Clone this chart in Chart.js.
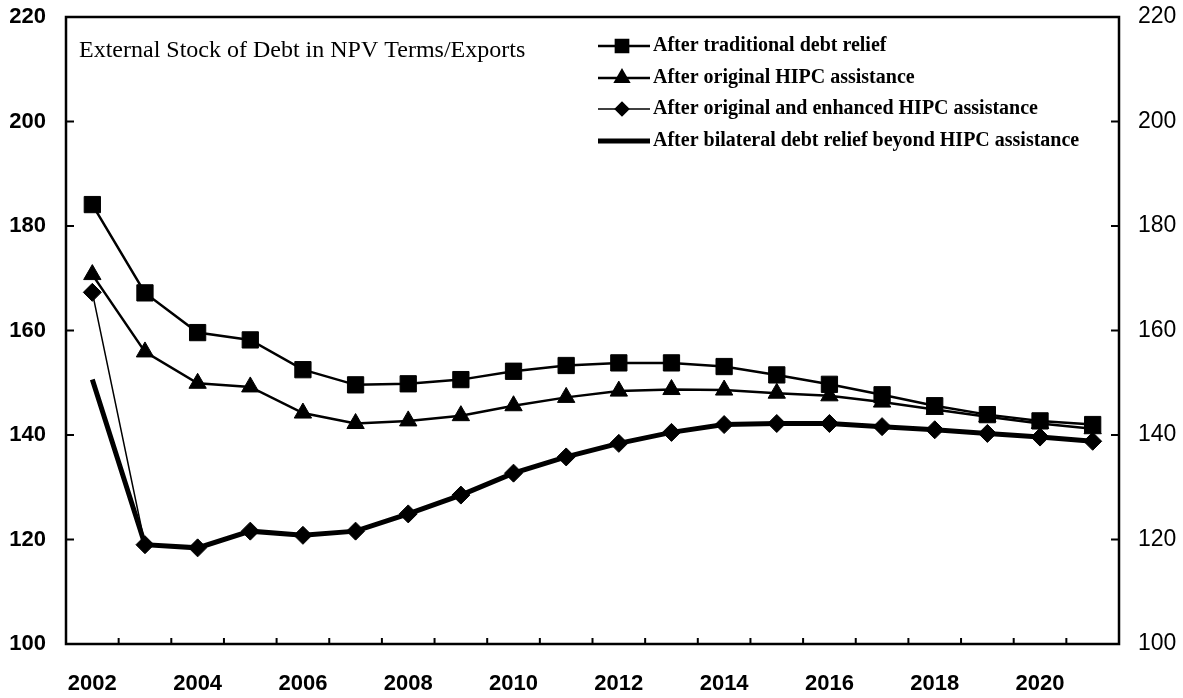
<!DOCTYPE html>
<html>
<head>
<meta charset="utf-8">
<title>External Stock of Debt in NPV Terms/Exports</title>
<script src="https://cdn.jsdelivr.net/npm/chart.js@4/dist/chart.umd.min.js"></script>
<style>
  body { margin: 0; background: #ffffff; }
  canvas { display: block; }
</style>
</head>
<body>
<canvas id="debtChart" width="1183" height="698"></canvas>
<script>
// Daten
const years = ["2002", "2003", "2004", "2005", "2006", "2007", "2008", "2009", "2010", "2011",
               "2012", "2013", "2014", "2015", "2016", "2017", "2018", "2019", "2020", "2021"];
const traditionalRelief = [184.1, 167.2, 159.6, 158.2, 152.5, 149.6, 149.8, 150.6, 152.2, 153.3,
                           153.8, 153.8, 153.1, 151.5, 149.7, 147.7, 145.6, 143.9, 142.7, 142.0];
const originalHipc = [170.7, 155.9, 149.9, 149.2, 144.2, 142.2, 142.7, 143.7, 145.6, 147.2,
                      148.4, 148.7, 148.6, 148.0, 147.5, 146.3, 144.9, 143.5, 142.2, 141.2];
const enhancedHipc = [167.3, 119.0, 118.4, 121.6, 120.8, 121.6, 124.9, 128.5, 132.7, 135.8,
                      138.4, 140.5, 142.0, 142.2, 142.2, 141.6, 141.0, 140.3, 139.6, 138.8];
const bilateralRelief = [150.6, 119.0, 118.4, 121.6, 120.8, 121.6, 124.9, 128.5, 132.7, 135.8,
                         138.4, 140.5, 142.0, 142.2, 142.2, 141.6, 141.0, 140.3, 139.6, 138.8];
const seriesLabels = [
  "After traditional debt relief",
  "After original HIPC assistance",
  "After original and enhanced HIPC assistance",
  "After bilateral debt relief beyond HIPC assistance",
];
const chartTitle = "External Stock of Debt in NPV Terms/Exports";

const axisFont = { family: "'Liberation Sans', Arial, sans-serif", size: 22, weight: "bold" };

// Rahmen und nach innen zeigende Striche
const frameTicks = {
  id: "frameTicks",
  beforeDatasetsDraw(chart) {
    const { ctx, chartArea: a, scales } = chart;
    ctx.save();
    ctx.strokeStyle = "#000";
    ctx.lineWidth = 2.5;
    ctx.strokeRect(a.left, a.top, a.right - a.left, a.bottom - a.top);
    ctx.lineWidth = 2;
    ctx.beginPath();
    const y = scales.y;
    y.ticks.forEach(function (t, i) {
      const py = y.getPixelForTick(i);
      if (py <= a.top + 1 || py >= a.bottom - 1) return;
      ctx.moveTo(a.left, py);
      ctx.lineTo(a.left + 8, py);
      ctx.moveTo(a.right, py);
      ctx.lineTo(a.right - 8, py);
    });
    const x = scales.x;
    for (let i = 1; i < years.length; i++) {
      const px = (x.getPixelForValue(i - 1) + x.getPixelForValue(i)) / 2;
      ctx.moveTo(px, a.bottom);
      ctx.lineTo(px, a.bottom - 6);
    }
    ctx.stroke();
    ctx.restore();
  },
  afterDraw(chart) {
    const { ctx, chartArea: a } = chart;
    ctx.save();
    ctx.fillStyle = "#000";
    ctx.textBaseline = "middle";
    ctx.font = "24px 'Liberation Serif', 'Times New Roman', serif";
    ctx.fillText(chartTitle, a.left + 13, a.top + 34);

    // Legende oben rechts im Diagramm
    const legendX = a.left + 532;
    const rowY = [a.top + 29, a.top + 61, a.top + 92, a.top + 124];
    ctx.font = "bold 20px 'Liberation Serif', 'Times New Roman', serif";
    chart.data.datasets.forEach(function (ds, i) {
      const yy = rowY[i];
      ctx.strokeStyle = "#000";
      ctx.lineWidth = ds.borderWidth;
      ctx.beginPath();
      ctx.moveTo(legendX, yy);
      ctx.lineTo(legendX + 52, yy);
      ctx.stroke();
      if (ds.pointRadius > 0) {
        Chart.helpers.drawPoint(ctx, {
          pointStyle: ds.pointStyle,
          radius: ds.pointRadius * 0.75,
          borderWidth: 1,
        }, legendX + 24, yy);
        ctx.fill();
      }
      ctx.fillText(ds.label, legendX + 55, yy);
    });
    ctx.restore();
  },
};

function makeDataset(label, data, style, radius, width) {
  return {
    label: label,
    data: data,
    borderColor: "#000",
    backgroundColor: "#000",
    pointBackgroundColor: "#000",
    pointBorderColor: "#000",
    pointBorderWidth: 1,
    borderWidth: width,
    pointStyle: style,
    pointRadius: radius,
    pointHoverRadius: radius,
    tension: 0,
    yAxisID: "y",
  };
}

// feste Breite, kein zusätzlicher Rand oben/unten
function fixVertical(width) {
  return function (s) {
    s.width = width;
    s.paddingTop = 0;
    s.paddingBottom = 0;
  };
}

function createChart() {
  const ctx = document.getElementById("debtChart").getContext("2d");
  return new Chart(ctx, {
    type: "line",
    data: {
      labels: years,
      datasets: [
        makeDataset(seriesLabels[0], traditionalRelief, "rect", 11.5, 2.5),
        makeDataset(seriesLabels[1], originalHipc, "triangle", 10, 2.5),
        makeDataset(seriesLabels[2], enhancedHipc, "rectRot", 9, 1.5),
        makeDataset(seriesLabels[3], bilateralRelief, false, 0, 5),
      ],
    },
    options: {
      responsive: false,
      animation: false,
      layout: { padding: { top: 17, left: 0, right: 0, bottom: 0 } },
      plugins: { legend: { display: false }, tooltip: { enabled: false } },
      scales: {
        x: {
          offset: true,
          grid: { display: false, drawTicks: false },
          border: { display: false },
          ticks: {
            color: "#000",
            font: axisFont,
            padding: 27,
            autoSkip: false,
            maxRotation: 0,
            callback: function (v, i) { return i % 2 === 0 ? years[i] : ""; },
          },
          afterFit: function (s) { s.height = 54; s.paddingLeft = 0; s.paddingRight = 0; },
        },
        y: {
          position: "left",
          min: 100,
          max: 220,
          grid: { display: false, drawTicks: false },
          border: { display: false },
          ticks: { stepSize: 20, color: "#000", font: axisFont, padding: 20 },
          afterFit: fixVertical(66),
        },
        y2: {
          position: "right",
          min: 100,
          max: 220,
          grid: { display: false, drawTicks: false },
          border: { display: false },
          ticks: {
            stepSize: 20,
            color: "#000",
            font: { family: axisFont.family, size: 23, weight: "normal" },
            padding: 19,
          },
          afterFit: fixVertical(64),
        },
      },
    },
    plugins: [frameTicks],
  });
}

window.onload = createChart;
</script>
</body>
</html>
